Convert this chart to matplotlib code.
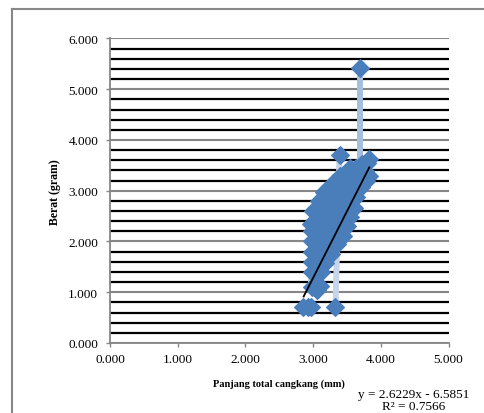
import matplotlib.pyplot as plt
from matplotlib.ticker import MultipleLocator, FormatStrFormatter
from matplotlib.lines import Line2D

plt.rcParams['font.family'] = ['Liberation Serif', 'DejaVu Serif']

# panjang total cangkang (x) and berat (y)
panjang = [2.85, 2.92, 2.97, 3.33,
           2.98, 3.05, 3.10, 2.98, 3.05, 3.12, 2.98, 3.05, 3.12, 3.18,
           2.98, 3.05, 3.12, 3.20, 3.26, 2.98, 3.05, 3.12, 3.20, 3.28, 3.36,
           2.98, 3.05, 3.12, 3.20, 3.28, 3.36, 3.44,
           2.97, 3.03, 3.10, 3.18, 3.26, 3.34, 3.42, 3.50,
           3.00, 3.06, 3.14, 3.22, 3.30, 3.38, 3.46, 3.54,
           3.08, 3.15, 3.22, 3.30, 3.38, 3.46, 3.54, 3.60,
           3.16, 3.24, 3.32, 3.40, 3.48, 3.56, 3.64,
           3.30, 3.38, 3.46, 3.54, 3.62, 3.70,
           3.40, 3.48, 3.56, 3.64, 3.72, 3.78,
           3.55, 3.63, 3.70, 3.77, 3.82,
           3.72, 3.80, 3.83, 3.39, 3.69]
berat = [0.70, 0.70, 0.70, 0.70,
         1.10, 1.05, 1.12, 1.40, 1.35, 1.40, 1.60, 1.55, 1.60, 1.58,
         1.80, 1.82, 1.78, 1.80, 1.75, 2.00, 2.02, 1.98, 2.00, 1.96, 1.95,
         2.20, 2.18, 2.22, 2.20, 2.15, 2.12, 2.10,
         2.35, 2.40, 2.42, 2.38, 2.40, 2.35, 2.32, 2.30,
         2.60, 2.62, 2.60, 2.58, 2.55, 2.55, 2.50, 2.48,
         2.80, 2.82, 2.80, 2.78, 2.75, 2.72, 2.70, 2.66,
         2.98, 3.00, 3.02, 2.98, 2.95, 2.92, 2.88,
         3.15, 3.18, 3.15, 3.12, 3.10, 3.08,
         3.30, 3.32, 3.30, 3.28, 3.25, 3.20,
         3.45, 3.45, 3.40, 3.38, 3.30,
         3.52, 3.55, 3.62, 3.70, 5.42]

# light blue connecting segments visible behind the markers
seg_x = [[3.33, 3.39], [3.69, 3.69], [2.97, 2.97]]
seg_y = [[0.70, 3.70], [3.50, 5.42], [1.20, 2.25]]
seg_c = ['#c6d5ea', '#a7bfde', '#c6d5ea']

slope = 2.6229
intercept = -6.5851
fit_x = [2.86, 3.83]

fig = plt.figure(figsize=(4.85, 4.14), dpi=100)
ax = fig.add_axes([0.2268, 0.1691, 0.698, 0.7355])

for sx, sy, c in zip(seg_x, seg_y, seg_c):
    ax.plot(sx, sy, color=c, lw=4.3, solid_capstyle='butt', zorder=2)

ax.plot(panjang, berat, 'D', color='#4a7ebb', ms=8.8, mec='#4a7ebb', mew=0.8, zorder=3)

fit_y = [slope * v + intercept for v in fit_x]
ax.plot(fit_x, fit_y, color='black', lw=1.3, zorder=4)

ax.set_xlim(0, 5)
ax.set_ylim(0, 6)
ax.xaxis.set_major_locator(MultipleLocator(1))
ax.yaxis.set_major_locator(MultipleLocator(1))
ax.yaxis.set_minor_locator(MultipleLocator(0.2))
ax.xaxis.set_major_formatter(FormatStrFormatter('%.3f'))
ax.yaxis.set_major_formatter(FormatStrFormatter('%.3f'))

ax.grid(True, which='major', axis='y', color='#868686', lw=1.5, zorder=1)
ax.grid(True, which='minor', axis='y', color='black', lw=1.6, zorder=1)
ax.set_axisbelow(True)

for s in ['top', 'right']:
    ax.spines[s].set_visible(False)
for s in ['left', 'bottom']:
    ax.spines[s].set_color('#868686')
    ax.spines[s].set_linewidth(1.3)

ax.tick_params(which='major', length=3, width=1, color='#868686', labelsize=9.5)
ax.tick_params(axis='y', pad=5.5)
ax.tick_params(axis='x', pad=4)
ax.tick_params(which='minor', length=0)

ax.set_ylabel('Berat (gram)', fontsize=8.5, fontweight='bold', labelpad=5.5)
ax.set_xlabel('Panjang total cangkang (mm)', fontsize=7.5, fontweight='bold', labelpad=10)

fig.text(414 / 485, 1 - 401 / 414, 'y = 2.6229x - 6.5851\nR\u00b2 = 0.7566',
         ha='center', va='center', fontsize=9.5, linespacing=1.0)

# outer chart border
fig.add_artist(Line2D([12 / 485, 12 / 485], [0, 1 - 10 / 414], transform=fig.transFigure,
                      color='#888888', lw=1.5))
fig.add_artist(Line2D([12 / 485, 1], [1 - 10 / 414, 1 - 10 / 414], transform=fig.transFigure,
                      color='#888888', lw=1.5))

fig.savefig('out.png', dpi=100)
